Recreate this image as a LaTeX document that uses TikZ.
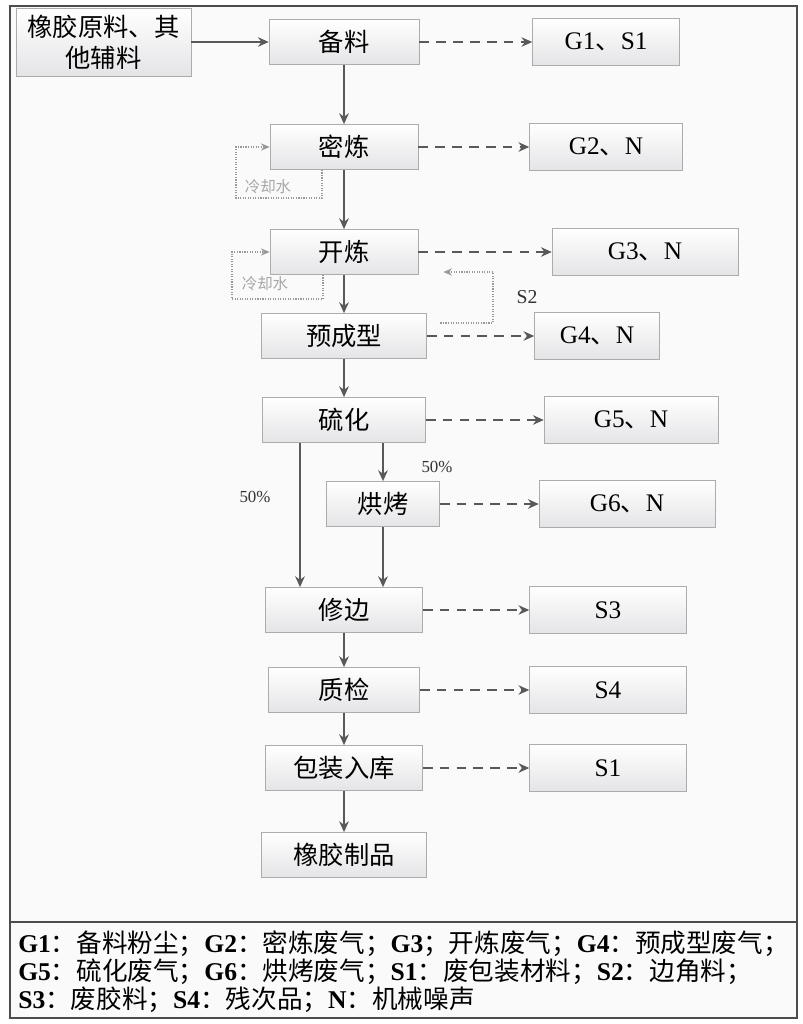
\documentclass[tikz,border=0pt]{standalone}
\usepackage{fontspec}
\setmainfont{Liberation Serif}
\newfontfamily\cjk{Noto Sans CJK SC}
\newcommand\zh[1]{{\cjk\mdseries #1}}
\usetikzlibrary{arrows.meta,positioning,calc}

\begin{document}
\begin{tikzpicture}[
  proc/.style={draw=gray!65,top color=white,bottom color=blue!5!gray!20,
               minimum height=1.13cm,font=\cjk\fontsize{18}{22}\selectfont,align=center},
  emis/.style={proc,minimum height=1.17cm,font=\fontsize{18}{22}\selectfont},
  arr/.style={-{Stealth[length=2.7mm,width=2.4mm]},line width=1pt,draw=black!65},
  darr/.style={arr,dash pattern=on 7pt off 5pt},
  cool/.style={-{Stealth[length=2.2mm,width=1.8mm]},densely dotted,line width=0.8pt,draw=gray!80},
  note/.style={font=\fontsize{12}{14}\selectfont,text=black!80},
  coolnote/.style={font=\cjk\fontsize{11}{13}\selectfont,text=gray!70}
]
\useasboundingbox (0,0) rectangle (20.05,-25.6);

% Frame and legend separator
\draw[line width=1.2pt,draw=black!70,fill=black!2] (0.25,-0.15) rectangle (19.925,-25.45);
\draw[line width=1.2pt,draw=black!70] (0.25,-23.05) -- (19.925,-23.05);

% Main process column
\node[proc,minimum width=4.375cm,minimum height=1.7cm] (raw) at (2.59,-1.05) {橡胶原料、其\\他辅料};
\node[proc,minimum width=3.75cm] (beiliao) at (8.6,-1.05) {备料};
\node[proc,minimum width=3.7cm] (milian) at (8.6,-3.675) {密炼};
\node[proc,minimum width=3.7cm] (kailian) at (8.6,-6.3) {开炼};
\node[proc,minimum width=4.125cm] (yucx) at (8.6,-8.4) {预成型};
\node[proc,minimum width=4.075cm] (liuhua) at (8.6,-10.5) {硫化};
\node[proc,minimum width=2.825cm] (honggao) at (9.575,-12.6) {烘烤};
\node[proc,minimum width=3.925cm] (xiubian) at (8.6,-15.25) {修边};
\node[proc,minimum width=3.775cm] (zhijian) at (8.6,-17.25) {质检};
\node[proc,minimum width=3.925cm] (baozhuang) at (8.6,-19.2) {包装入库};
\node[proc,minimum width=4.125cm] (product) at (8.6,-21.375) {橡胶制品};

% Emissions
\node[emis,minimum width=3.675cm] (g1s1) at (15.15,-1.05) {G1\zh{、}S1};
\node[emis,minimum width=3.825cm] (g2n) at (15.15,-3.675) {G2\zh{、}N};
\node[emis,minimum width=4.65cm] (g3n) at (16.125,-6.3) {G3\zh{、}N};
\node[emis,minimum width=3.125cm] (g4n) at (14.925,-8.4) {G4\zh{、}N};
\node[emis,minimum width=4.35cm] (g5n) at (15.775,-10.5) {G5\zh{、}N};
\node[emis,minimum width=4.4cm] (g6n) at (15.675,-12.6) {G6\zh{、}N};
\node[emis,minimum width=3.925cm] (s3) at (15.2,-15.25) {S3};
\node[emis,minimum width=3.925cm] (s4) at (15.2,-17.25) {S4};
\node[emis,minimum width=3.925cm] (s1) at (15.2,-19.2) {S1};

% Main flow
\draw[arr] (raw) -- (beiliao);
\draw[arr] (beiliao) -- (milian);
\draw[arr] (milian) -- (kailian);
\draw[arr] (kailian) -- (yucx);
\draw[arr] (yucx) -- (liuhua);
\draw[arr] (liuhua.south -| honggao) -- (honggao);
\draw[arr] ([xshift=-1.1cm]liuhua.south) -- ([xshift=-1.1cm]liuhua.south |- xiubian.north);
\draw[arr] (honggao) -- (honggao |- xiubian.north);
\draw[arr] (xiubian) -- (zhijian);
\draw[arr] (zhijian) -- (baozhuang);
\draw[arr] (baozhuang) -- (product);

\node[note] (half1) at (10.925,-11.675) {50\%};
\node[note] (half2) at (6.375,-12.425) {50\%};

% Waste outputs
\draw[darr] (beiliao) -- (g1s1);
\draw[darr] (milian) -- (g2n);
\draw[darr] (kailian) -- (g3n);
\draw[darr] (yucx) -- (g4n);
\draw[darr] (liuhua) -- (g5n);
\draw[darr] (honggao) -- (g6n);
\draw[darr] (xiubian) -- (s3);
\draw[darr] (zhijian) -- (s4);
\draw[darr] (baozhuang) -- (s1);

% Cooling water loops
\coordinate (cw1) at (5.9,-4.95);
\coordinate (cw2) at (5.8,-7.475);
\draw[cool] ([xshift=-0.55cm]milian.south) |- (cw1) |- (milian.west);
\draw[cool] ([xshift=-0.525cm]kailian.south) |- (cw2) |- (kailian.west);
\node[coolnote] (cwlab1) at (6.7,-4.675) {冷却水};
\node[coolnote] (cwlab2) at (6.625,-7.1) {冷却水};

% Scrap return
\coordinate (s2up) at (12.325,-6.8);
\draw[cool] ([xshift=0.34cm,yshift=0.325cm]yucx.east) -| (s2up) -- ([xshift=0.625cm,yshift=-0.5cm]kailian.east);
\node[note,font=\fontsize{14}{16}\selectfont] (s2lab) at (13.175,-7.425) {S2};

% Legend
\node[anchor=west,align=left,inner sep=0pt,font=\bfseries\fontsize{18.2}{20}\selectfont] (legend) at (0.45,-24.3)
  {G1\zh{：备料粉尘；}G2\zh{：密炼废气；}G3\zh{；开炼废气；}G4\zh{：预成型废气；}\\
   G5\zh{：硫化废气；}G6\zh{：烘烤废气；}S1\zh{：废包装材料；}S2\zh{：边角料；}\\
   S3\zh{：废胶料；}S4\zh{：残次品；}N\zh{：机械噪声}};

\end{tikzpicture}
\end{document}
